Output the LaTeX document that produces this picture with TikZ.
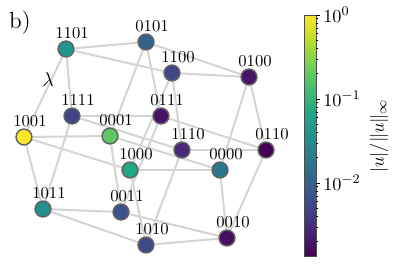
\documentclass[tikz,border=0pt]{standalone}
\usepackage{xcolor}
\usetikzlibrary{backgrounds}

% viridis 色表
\definecolor{v0}{HTML}{440154}
\definecolor{v1}{HTML}{482475}
\definecolor{v2}{HTML}{414487}
\definecolor{v3}{HTML}{355F8D}
\definecolor{v4}{HTML}{2A788E}
\definecolor{v5}{HTML}{21918C}
\definecolor{v6}{HTML}{22A884}
\definecolor{v7}{HTML}{44BF70}
\definecolor{v8}{HTML}{7AD151}
\definecolor{v9}{HTML}{BDDF26}
\definecolor{v10}{HTML}{FDE725}
\pgfdeclareverticalshading{viridis}{100bp}{color(0bp)=(v0); color(25bp)=(v0);
  color(30bp)=(v1); color(35bp)=(v2); color(40bp)=(v3); color(45bp)=(v4);
  color(50bp)=(v5); color(55bp)=(v6); color(60bp)=(v7); color(65bp)=(v8);
  color(70bp)=(v9); color(75bp)=(v10); color(100bp)=(v10)}

% 顶点颜色
\definecolor{c0000}{HTML}{2A788E}
\definecolor{c0001}{HTML}{5EC962}
\definecolor{c0010}{HTML}{470E61}
\definecolor{c0011}{HTML}{3B528B}
\definecolor{c0100}{HTML}{481668}
\definecolor{c0101}{HTML}{33638D}
\definecolor{c0110}{HTML}{440256}
\definecolor{c0111}{HTML}{471365}
\definecolor{c1000}{HTML}{22A785}
\definecolor{c1001}{HTML}{FDE725}
\definecolor{c1010}{HTML}{3E4A89}
\definecolor{c1011}{HTML}{21918C}
\definecolor{c1100}{HTML}{404688}
\definecolor{c1101}{HTML}{1F968B}
\definecolor{c1110}{HTML}{482878}
\definecolor{c1111}{HTML}{414487}

\tikzset{
  vert/.style={circle, draw=black!62, line width=0.9pt, minimum size=9.5pt, inner sep=0pt},
  lbl/.style={font=\fontsize{10}{12}\selectfont, inner sep=0pt},
  edge/.style={draw=black!17, line width=1.2pt},
  cbtick/.style={line width=0.5pt}
}

\begin{document}
\begin{tikzpicture}[x=0.6pt,y=-0.6pt]
    \useasboundingbox (0,0) rectangle (399,264);

    % 顶点及其标号
    \foreach \n/\x/\y in {1101/66/49, 0101/146/42, 1100/172/73, 0100/249/77,
        1111/72/116, 0111/161/116, 0001/110/136, 1001/24/137,
        1110/182/150, 0110/266/150, 1000/130/170, 0000/220/170,
        1011/43/209, 0011/121/212, 1010/146/245, 0010/227/238} {
        \node[vert, fill=c\n] (n\n) at (\x,\y) {};
        \node[lbl] (t\n) at ([shift={(6,-16)}]n\n.center) {\n};
    }

    % 超立方体的边
    \begin{scope}[on background layer]
        \foreach \a/\b in {0000/1000, 0001/1001, 0010/1010, 0011/1011,
            0100/1100, 0101/1101, 0110/1110, 0111/1111,
            0000/0100, 0001/0101, 0010/0110, 0011/0111,
            1000/1100, 1001/1101, 1010/1110, 1011/1111,
            0000/0010, 0001/0011, 0100/0110, 0101/0111,
            1000/1010, 1001/1011, 1100/1110, 1101/1111,
            0000/0001, 0010/0011, 0100/0101, 0110/0111,
            1000/1001, 1010/1011, 1100/1101, 1110/1111}
            \draw[edge] (n\a) -- (n\b);
    \end{scope}

    % 标题与 lambda
    \node[font=\fontsize{14}{16}\selectfont] (title) at (20,23) {b)};
    \node[font=\fontsize{12}{14}\selectfont] (lam) at (48,80) {$\lambda$};

    % 色条
    \shade[shading=viridis] (304,15) rectangle (316,256);
    \draw[line width=0.5pt, black!70] (304,15) rectangle (316,256);
    \foreach \d in {15,99,183}
        \foreach \k in {2,...,9}
            \draw[cbtick] (316,{\d+84*(1-log10(\k))}) -- ++(2.4,0);
    \foreach \y/\e in {15/0, 99/-1, 183/-2} {
        \draw[cbtick] (316,\y) -- ++(4,0);
        \node[anchor=west, font=\fontsize{11}{13}\selectfont, inner sep=0pt] (tick\e) at (323,\y) {$10^{\e}$};
    }
    \node[rotate=90, font=\fontsize{11}{13}\selectfont] (cblabel) at (379,136) {$|u|/\|u\|_\infty$};

\end{tikzpicture}
\end{document}
